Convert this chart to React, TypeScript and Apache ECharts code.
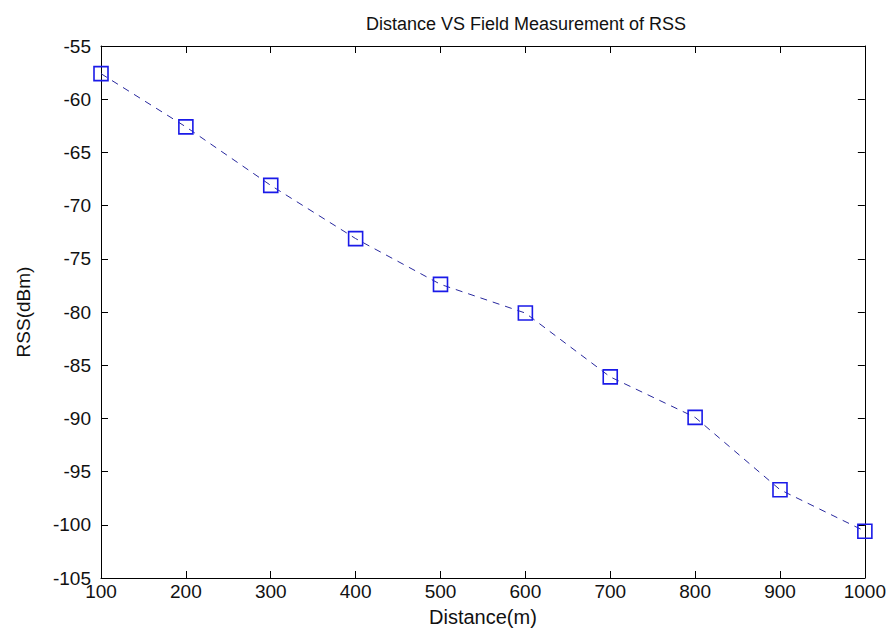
import React, { useEffect, useRef } from "react";
import * as echarts from "echarts";

const distances = [100, 200, 300, 400, 500, 600, 700, 800, 900, 1000];
const rss = [-57.6, -62.6, -68.1, -73.1, -77.4, -80.1, -86.1, -89.9, -96.7, -100.6];
const titleText = "Distance VS Field Measurement of RSS";
const xName = "Distance(m)";
const yName = "RSS(dBm)";

export default function App() {
  const ref = useRef<HTMLDivElement>(null);
  useEffect(() => {
    if (!ref.current) return;
    const chart = echarts.init(ref.current, undefined, { renderer: "svg" });
    const font = "'Liberation Sans', Arial, sans-serif";
    const axisLine = { show: true, lineStyle: { color: "#000", width: 1 } };
    const tick = { show: true, inside: true, length: 7, lineStyle: { color: "#000" } };
    chart.setOption({
      animation: false,
      backgroundColor: "#fff",
      title: {
        text: titleText,
        left: 521,
        top: 10,
        textAlign: "center",
        textStyle: { fontFamily: font, fontSize: 18, fontWeight: "normal", color: "#111" },
      },
      grid: { left: 101, right: 24, top: 46, bottom: 57, containLabel: false },
      xAxis: [
        {
          type: "value",
          min: 100,
          max: 1000,
          interval: 100,
          name: xName,
          nameLocation: "middle",
          nameGap: 29,
          nameTextStyle: { fontFamily: font, fontSize: 20, color: "#111" },
          axisLine,
          axisTick: tick,
          splitLine: { show: false },
          axisLabel: {
            fontFamily: font,
            fontSize: 19,
            color: "#111",
            margin: 4,
            formatter: (v: number) => String(v),
          },
        },
        {
          type: "value",
          position: "top",
          min: 100,
          max: 1000,
          interval: 100,
          axisLine,
          axisTick: tick,
          splitLine: { show: false },
          axisLabel: { show: false },
        },
      ],
      yAxis: [
        {
          type: "value",
          min: -105,
          max: -55,
          interval: 5,
          name: yName,
          nameLocation: "middle",
          nameGap: 68,
          nameTextStyle: { fontFamily: font, fontSize: 19, color: "#111" },
          axisLine,
          axisTick: tick,
          splitLine: { show: false },
          axisLabel: { fontFamily: font, fontSize: 19, color: "#111", margin: 10 },
        },
        {
          type: "value",
          position: "right",
          min: -105,
          max: -55,
          interval: 5,
          axisLine,
          axisTick: tick,
          splitLine: { show: false },
          axisLabel: { show: false },
        },
      ],
      series: [
        {
          type: "line",
          data: distances.map((d, i) => [d, rss[i]]),
          symbol: "rect",
          symbolSize: 14,
          showSymbol: true,
          lineStyle: { color: "#28289e", width: 1, type: [7, 6] },
          itemStyle: { color: "transparent", borderColor: "#1a1ae8", borderWidth: 1.6 },
        },
      ],
    });
    return () => chart.dispose();
  }, []);
  return <div ref={ref} style={{ width: 889, height: 635, position: "absolute", left: 0, top: 0 }} />;
}
